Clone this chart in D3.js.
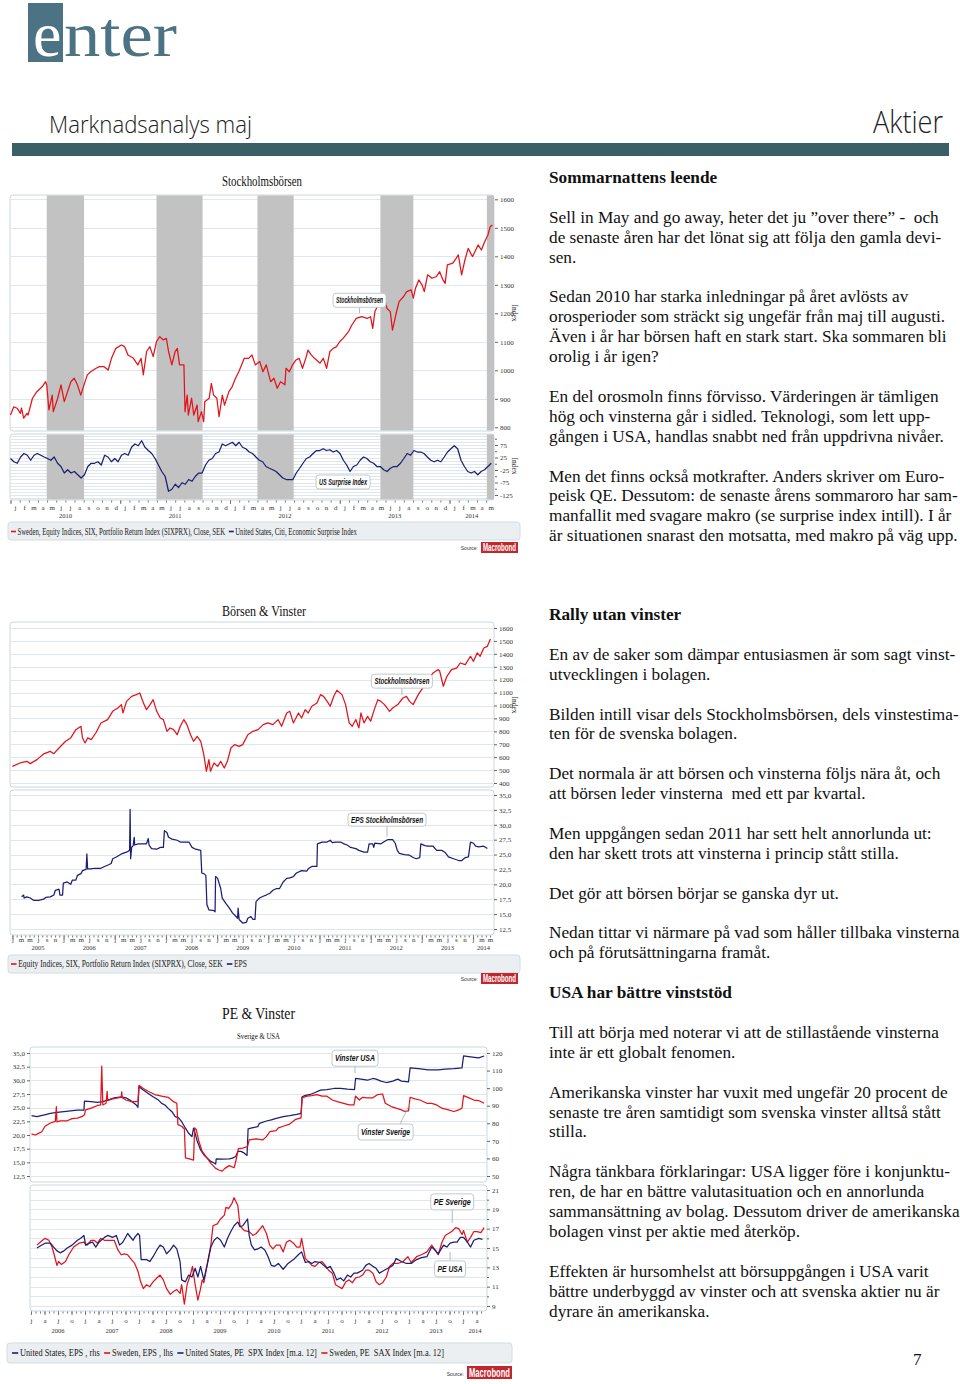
<!DOCTYPE html>
<html>
<head>
<meta charset="utf-8">
<script src="https://cdn.jsdelivr.net/npm/d3@7"></script>
<style>
  body { margin: 0; background: #fff; }
  svg { display: block; }
</style>
</head>
<body>
<script>
// ---------------- data ----------------
var monthLetters = ['j','f','m','a','m','j','j','a','s','o','n','d'];

// Chart 1: Stockholmsbörsen (SIXPRX) 2010-2014, [decimal year, index]
var c1Stock = [[2010.00,843],[2010.03,872],[2010.06,867],[2010.09,849],[2010.10,867],[2010.12,832],[2010.15,849],[2010.16,843],[2010.20,902],[2010.24,925],[2010.29,943],[2010.32,960],[2010.33,949],[2010.35,861],[2010.38,913],[2010.39,855],[2010.43,902],[2010.46,949],[2010.49,890],[2010.52,925],[2010.55,960],[2010.58,972],[2010.61,949],[2010.64,913],[2010.67,949],[2010.70,984],[2010.73,995],[2010.78,1007],[2010.81,1013],[2010.85,1013],[2010.89,1001],[2010.92,1042],[2010.96,1077],[2011.01,1089],[2011.04,1083],[2011.07,1054],[2011.12,1042],[2011.16,1019],[2011.19,1042],[2011.21,984],[2011.24,1066],[2011.27,1083],[2011.30,1048],[2011.33,1101],[2011.36,1118],[2011.39,1107],[2011.42,1112],[2011.44,1066],[2011.47,1019],[2011.50,1066],[2011.52,1077],[2011.54,1019],[2011.58,1019],[2011.59,855],[2011.61,913],[2011.62,843],[2011.65,902],[2011.67,843],[2011.70,878],[2011.71,820],[2011.74,855],[2011.76,820],[2011.77,890],[2011.81,902],[2011.83,954],[2011.85,913],[2011.88,902],[2011.90,837],[2011.93,913],[2011.95,878],[2011.99,925],[2012.02,943],[2012.05,972],[2012.08,995],[2012.13,1042],[2012.17,1042],[2012.20,1054],[2012.23,1019],[2012.27,1031],[2012.30,995],[2012.33,1019],[2012.37,960],[2012.40,972],[2012.43,937],[2012.46,960],[2012.50,949],[2012.51,1007],[2012.54,995],[2012.57,1019],[2012.60,1036],[2012.63,1042],[2012.66,1007],[2012.69,1042],[2012.71,1071],[2012.74,1054],[2012.77,1042],[2012.82,1025],[2012.85,1042],[2012.88,1007],[2012.91,1066],[2012.94,1077],[2012.97,1083],[2013.00,1101],[2013.03,1112],[2013.08,1136],[2013.11,1159],[2013.15,1182],[2013.20,1188],[2013.25,1182],[2013.28,1188],[2013.30,1147],[2013.32,1206],[2013.35,1229],[2013.40,1264],[2013.43,1217],[2013.46,1206],[2013.48,1141],[2013.51,1194],[2013.54,1241],[2013.58,1258],[2013.61,1276],[2013.65,1282],[2013.67,1253],[2013.69,1288],[2013.72,1317],[2013.75,1299],[2013.77,1276],[2013.80,1335],[2013.84,1323],[2013.88,1329],[2013.91,1346],[2013.94,1317],[2013.96,1305],[2013.98,1370],[2014.03,1376],[2014.06,1393],[2014.08,1405],[2014.11,1335],[2014.14,1387],[2014.17,1428],[2014.20,1405],[2014.21,1399],[2014.26,1440],[2014.29,1422],[2014.32,1451],[2014.35,1475],[2014.37,1504],[2014.39,1510]];

// Chart 1: Citi Economic Surprise Index US, evenly spaced readings 2010.00 - 2014.38
var c1SurpriseSpan = [2010.00, 2014.38];
var c1Surprise = [
  21, 8, 2, 27, 41, 34, 14, 34, 41, 34,
  27, 21, 14, 27, 2, -11, -37, -24, -37, -31,
  -44, -57, -44, -11, 2, 2, 8, -5, 34, 27,
  8, 21, 8, 34, 41, 34, 66, 79, 72, 92,
  66, 53, 41, 21, -5, -31, -50, -110, -102, -82,
  -95, -76, -82, -63, -70, -50, -37, -37, -5, 14,
  21, 41, 47, 79, 72, 79, 86, 72, 86, 66,
  60, 47, 41, 27, 14, 8, -11, -18, -24, -31,
  -44, -57, -63, -63, -63, -37, -18, 2, 21, 27,
  41, 53, 53, 60, 53, 56, 47, 53, 41, 14,
  -5, -31, -11, -5, 14, 27, 21, 8, 2, -11,
  -11, -24, -31, -18, -11, -11, 2, 21, 41, 34,
  53, 47, 47, 41, 27, 14, 8, 14, 8, 27,
  47, 60, 72, 60, 14, -11, -31, -37, -31, -44,
  -31, -24, -11, 2
];

// Chart 1: shaded summer periods [from, to] in decimal years
var c1Bands = [[2010.33,2010.67],[2011.33,2011.75],[2012.25,2012.58],[2013.37,2013.67],[2014.34,2014.405]];
var c1IndexTicks = [800,900,1000,1100,1200,1300,1400,1500,1600];
var c1SurpriseTicks = [75,25,-25,-75,-125];
var c1SurpriseMinor = [100,50,0,-50,-100];
var c1SurpriseGrid = d3.range(-137.5, 113, 12.5);
var c1Years = [2010,2011,2012,2013,2014];
var c1Legend = ['Sweden, Equity Indices, SIX, Portfolio Return Index (SIXPRX), Close, SEK', 'United States, Citi, Economic Surprise Index'];

// Chart 2: Stockholmsbörsen 2005-2014
var c2Stock = [[2005.00,529],[2005.15,555],[2005.28,568],[2005.35,550],[2005.48,581],[2005.61,625],[2005.74,645],[2005.81,627],[2005.91,671],[2006.04,723],[2006.14,749],[2006.24,813],[2006.34,839],[2006.37,749],[2006.42,710],[2006.47,749],[2006.54,736],[2006.63,787],[2006.73,865],[2006.86,891],[2006.96,955],[2007.06,981],[2007.13,1007],[2007.16,942],[2007.23,1032],[2007.33,1071],[2007.42,1084],[2007.49,1097],[2007.56,1020],[2007.62,968],[2007.69,1007],[2007.75,1045],[2007.82,955],[2007.89,903],[2007.95,891],[2008.02,800],[2008.08,826],[2008.15,813],[2008.22,774],[2008.28,839],[2008.35,891],[2008.41,852],[2008.48,774],[2008.54,723],[2008.61,761],[2008.68,723],[2008.74,620],[2008.79,491],[2008.84,581],[2008.87,491],[2008.94,555],[2009.01,529],[2009.07,568],[2009.14,516],[2009.20,568],[2009.27,671],[2009.34,697],[2009.43,684],[2009.50,697],[2009.60,774],[2009.70,800],[2009.80,813],[2009.90,852],[2009.99,865],[2010.09,852],[2010.19,891],[2010.26,839],[2010.36,942],[2010.42,955],[2010.49,865],[2010.59,942],[2010.65,903],[2010.72,968],[2010.78,942],[2010.85,994],[2010.95,1020],[2011.02,1084],[2011.08,1071],[2011.15,1032],[2011.21,994],[2011.28,1071],[2011.34,1118],[2011.44,1084],[2011.51,1007],[2011.58,865],[2011.64,839],[2011.71,891],[2011.77,826],[2011.81,942],[2011.87,865],[2011.94,916],[2012.00,878],[2012.07,968],[2012.14,1045],[2012.20,1032],[2012.27,1007],[2012.37,955],[2012.43,981],[2012.53,1007],[2012.63,1058],[2012.70,1071],[2012.76,1032],[2012.83,1007],[2012.93,1084],[2013.02,1136],[2013.12,1200],[2013.22,1252],[2013.32,1278],[2013.35,1265],[2013.42,1149],[2013.49,1226],[2013.58,1278],[2013.68,1290],[2013.75,1329],[2013.85,1316],[2013.95,1381],[2014.01,1342],[2014.08,1407],[2014.14,1381],[2014.21,1445],[2014.28,1458],[2014.34,1515]];

// Chart 2: EPS Stockholmsbörsen
var c2Eps = [[2005.18,17.9],[2005.22,18.2],[2005.23,17.7],[2005.28,17.9],[2005.35,17.7],[2005.42,17.3],[2005.51,17.3],[2005.61,17.5],[2005.65,17.8],[2005.74,17.9],[2005.81,18.2],[2005.84,19.0],[2005.91,19.2],[2005.93,18.2],[2005.98,18.2],[2005.995,20.2],[2006.07,20.4],[2006.14,20.0],[2006.17,20.7],[2006.24,20.7],[2006.27,21.5],[2006.34,21.8],[2006.37,22.3],[2006.44,22.5],[2006.455,25.1],[2006.47,22.6],[2006.54,22.6],[2006.60,22.7],[2006.73,22.7],[2006.80,23.0],[2006.86,23.2],[2006.93,23.5],[2006.96,24.3],[2007.03,24.6],[2007.13,25.1],[2007.23,25.4],[2007.29,25.7],[2007.30,32.6],[2007.31,24.3],[2007.33,26.2],[2007.36,26.5],[2007.38,27.9],[2007.39,26.6],[2007.46,26.8],[2007.52,26.8],[2007.62,26.8],[2007.655,27.7],[2007.67,26.6],[2007.72,26.0],[2007.82,25.9],[2007.89,26.2],[2007.95,26.2],[2007.97,29.0],[2008.02,28.7],[2008.05,27.9],[2008.12,27.6],[2008.22,27.4],[2008.28,27.1],[2008.45,27.1],[2008.51,26.2],[2008.58,25.9],[2008.68,25.7],[2008.70,21.9],[2008.74,21.8],[2008.78,21.5],[2008.80,16.6],[2008.84,15.7],[2008.94,15.6],[2008.96,15.4],[2008.97,21.3],[2009.01,21.0],[2009.07,19.3],[2009.10,17.7],[2009.17,16.8],[2009.24,16.0],[2009.30,15.2],[2009.37,14.6],[2009.40,14.3],[2009.41,16.0],[2009.43,14.1],[2009.50,13.5],[2009.57,13.6],[2009.60,14.3],[2009.66,14.6],[2009.70,14.1],[2009.74,14.1],[2009.76,17.1],[2009.83,17.7],[2009.90,18.0],[2009.96,18.2],[2010.03,18.5],[2010.09,19.0],[2010.16,19.3],[2010.22,19.3],[2010.29,20.4],[2010.36,21.0],[2010.42,21.1],[2010.49,21.3],[2010.55,21.9],[2010.65,22.3],[2010.75,22.2],[2010.78,22.6],[2010.85,23.0],[2010.95,23.0],[2010.96,26.8],[2011.05,27.1],[2011.15,27.1],[2011.21,27.4],[2011.25,27.0],[2011.31,27.1],[2011.41,27.1],[2011.48,26.8],[2011.54,26.6],[2011.61,26.2],[2011.71,26.0],[2011.77,25.7],[2011.87,25.4],[2011.94,25.4],[2011.97,26.8],[2012.04,26.8],[2012.06,26.2],[2012.08,26.9],[2012.20,26.8],[2012.27,27.2],[2012.33,27.5],[2012.43,27.5],[2012.48,26.9],[2012.52,25.7],[2012.56,25.2],[2012.66,25.0],[2012.76,24.9],[2012.83,24.5],[2012.89,24.3],[2012.96,24.5],[2012.98,26.8],[2013.06,26.5],[2013.12,26.4],[2013.22,26.4],[2013.29,25.7],[2013.39,25.7],[2013.45,25.4],[2013.52,24.6],[2013.62,24.3],[2013.72,24.0],[2013.78,24.0],[2013.85,24.5],[2013.91,24.6],[2013.95,27.1],[2014.01,26.9],[2014.05,26.4],[2014.11,26.3],[2014.21,26.4],[2014.28,26.0]];
var c2IndexTicks = d3.range(400, 1601, 100);
var c2EpsTicks = d3.range(12.5, 35.1, 2.5);
var c2Years = d3.range(2005, 2015);
var c2Legend = ['Equity Indices, SIX, Portfolio Return Index (SIXPRX), Close, SEK', 'EPS'];

// Chart 3 top: EPS United States (rhs) and Sweden (lhs)
var c3EpsUS = [[2006.01,84.3],[2006.11,83.8],[2006.23,84.7],[2006.36,85.7],[2006.48,86.2],[2006.61,86.6],[2006.73,87.0],[2006.86,87.5],[2006.98,87.5],[2006.99,92.6],[2007.11,92.3],[2007.23,91.9],[2007.33,92.3],[2007.42,93.2],[2007.54,94.5],[2007.67,95.1],[2007.76,94.5],[2007.86,92.6],[2007.95,90.4],[2007.98,89.1],[2008.00,100.8],[2008.08,98.9],[2008.17,97.0],[2008.26,95.1],[2008.36,93.2],[2008.42,91.3],[2008.48,90.4],[2008.54,88.5],[2008.61,86.6],[2008.67,83.8],[2008.73,83.2],[2008.79,80.9],[2008.86,77.2],[2008.92,74.3],[2008.98,72.4],[2009.01,77.2],[2009.03,75.3],[2009.08,69.6],[2009.14,64.9],[2009.20,62.1],[2009.26,60.2],[2009.33,58.3],[2009.39,57.4],[2009.42,56.8],[2009.43,59.8],[2009.54,59.6],[2009.67,59.8],[2009.73,60.2],[2009.79,61.1],[2009.83,64.0],[2009.89,64.0],[2009.95,63.0],[2010.00,61.7],[2010.02,76.8],[2010.11,77.5],[2010.20,78.1],[2010.23,80.0],[2010.36,81.3],[2010.45,81.9],[2010.54,82.8],[2010.67,83.8],[2010.79,84.3],[2010.92,85.1],[2011.00,85.7],[2011.02,95.1],[2011.07,95.7],[2011.17,96.4],[2011.26,97.5],[2011.36,98.9],[2011.48,99.2],[2011.61,99.8],[2011.73,99.8],[2011.86,99.4],[2011.99,99.2],[2012.01,105.5],[2012.11,105.1],[2012.23,104.5],[2012.33,105.5],[2012.39,105.1],[2012.48,104.0],[2012.58,103.2],[2012.70,104.0],[2012.79,105.1],[2012.86,104.0],[2012.99,103.6],[2013.02,111.5],[2013.17,111.1],[2013.36,110.4],[2013.54,110.4],[2013.67,110.8],[2013.83,111.1],[2013.98,111.5],[2014.01,118.3],[2014.17,117.7],[2014.29,117.2],[2014.39,118.3]];
var c3EpsSE = [[2006.01,20.2],[2006.08,20.0],[2006.14,20.3],[2006.20,20.6],[2006.26,21.6],[2006.36,22.2],[2006.45,22.5],[2006.47,25.2],[2006.48,22.4],[2006.54,22.6],[2006.67,22.6],[2006.76,23.0],[2006.86,23.1],[2006.95,23.4],[2006.99,23.7],[2007.01,24.6],[2007.14,25.0],[2007.23,25.4],[2007.29,25.5],[2007.31,32.6],[2007.33,25.5],[2007.39,25.8],[2007.41,28.0],[2007.42,26.3],[2007.51,26.6],[2007.61,26.8],[2007.67,26.9],[2007.68,27.9],[2007.69,26.8],[2007.76,26.4],[2007.86,26.1],[2007.95,26.1],[2007.98,26.2],[2008.00,29.1],[2008.08,28.5],[2008.17,28.0],[2008.29,27.4],[2008.42,27.1],[2008.54,26.9],[2008.64,26.1],[2008.70,25.8],[2008.72,21.9],[2008.79,21.6],[2008.84,21.1],[2008.86,15.8],[2008.95,15.6],[2009.01,15.4],[2009.03,21.3],[2009.06,21.0],[2009.11,18.8],[2009.17,17.0],[2009.26,15.8],[2009.33,14.8],[2009.42,13.9],[2009.48,13.6],[2009.54,13.4],[2009.59,13.9],[2009.67,14.4],[2009.76,14.0],[2009.79,15.1],[2009.84,17.5],[2009.92,17.6],[2010.01,17.9],[2010.04,19.1],[2010.17,19.3],[2010.29,19.1],[2010.36,19.7],[2010.42,20.6],[2010.54,20.8],[2010.58,21.3],[2010.67,21.6],[2010.79,22.0],[2010.89,22.8],[2010.98,23.1],[2011.00,23.1],[2011.02,26.8],[2011.11,27.1],[2011.20,27.2],[2011.29,27.4],[2011.39,27.1],[2011.48,27.1],[2011.58,26.4],[2011.67,26.1],[2011.79,25.8],[2011.89,25.5],[2011.98,25.5],[2012.01,27.1],[2012.08,26.4],[2012.14,26.9],[2012.23,26.8],[2012.33,26.8],[2012.42,27.4],[2012.51,27.5],[2012.56,25.8],[2012.67,25.2],[2012.76,24.9],[2012.86,24.6],[2012.92,24.3],[2012.99,24.4],[2013.02,26.9],[2013.11,26.6],[2013.20,26.4],[2013.33,25.8],[2013.42,25.8],[2013.51,25.5],[2013.61,24.9],[2013.73,24.6],[2013.83,24.3],[2013.92,24.6],[2013.98,24.9],[2014.01,27.2],[2014.11,26.8],[2014.20,26.4],[2014.29,26.3],[2014.39,25.8]];

// Chart 3 bottom: P/E (12m moving average)
var c3PeUS = [[2006.11,15.0],[2006.17,15.2],[2006.26,15.5],[2006.36,15.5],[2006.42,15.1],[2006.48,14.7],[2006.54,14.5],[2006.61,14.7],[2006.67,15.0],[2006.76,15.3],[2006.86,15.8],[2006.92,16.0],[2006.98,16.3],[2007.01,15.3],[2007.08,15.5],[2007.14,15.6],[2007.20,15.1],[2007.26,15.6],[2007.36,16.1],[2007.42,16.3],[2007.51,16.1],[2007.58,16.3],[2007.64,15.3],[2007.70,15.6],[2007.79,16.5],[2007.89,15.8],[2007.92,16.1],[2007.98,16.5],[2008.01,16.3],[2008.04,13.8],[2008.14,13.8],[2008.20,13.6],[2008.26,14.1],[2008.33,14.8],[2008.39,15.3],[2008.45,15.1],[2008.51,14.4],[2008.58,14.8],[2008.64,15.3],[2008.70,14.9],[2008.76,13.6],[2008.79,11.7],[2008.86,11.5],[2008.92,12.2],[2008.98,12.0],[2009.04,12.9],[2009.09,12.0],[2009.14,13.1],[2009.20,11.7],[2009.26,13.2],[2009.33,15.1],[2009.39,15.8],[2009.45,16.1],[2009.51,15.8],[2009.58,15.1],[2009.64,16.0],[2009.70,16.7],[2009.76,17.3],[2009.83,17.7],[2009.87,17.2],[2009.92,17.3],[2010.01,18.0],[2010.04,16.3],[2010.08,15.3],[2010.14,14.8],[2010.20,14.9],[2010.26,15.1],[2010.33,14.8],[2010.39,14.1],[2010.45,13.2],[2010.51,13.1],[2010.58,13.4],[2010.67,12.8],[2010.76,13.4],[2010.86,13.8],[2010.95,14.3],[2011.01,14.6],[2011.08,13.5],[2011.14,13.6],[2011.20,13.4],[2011.26,13.6],[2011.36,13.5],[2011.42,13.2],[2011.48,12.9],[2011.54,13.1],[2011.61,12.4],[2011.66,11.7],[2011.73,11.9],[2011.79,11.6],[2011.86,12.2],[2011.92,12.0],[2011.98,12.4],[2012.04,12.4],[2012.14,12.7],[2012.20,13.2],[2012.26,13.4],[2012.33,13.1],[2012.39,12.9],[2012.45,12.4],[2012.51,12.6],[2012.61,12.9],[2012.70,13.2],[2012.76,13.9],[2012.86,13.6],[2012.95,13.4],[2013.04,13.4],[2013.14,13.8],[2013.23,14.0],[2013.33,14.1],[2013.42,15.1],[2013.48,14.8],[2013.54,14.4],[2013.64,15.3],[2013.70,15.1],[2013.76,15.5],[2013.83,15.6],[2013.89,15.6],[2013.95,16.1],[2014.01,16.1],[2014.08,15.6],[2014.14,15.1],[2014.20,15.8],[2014.29,16.0],[2014.36,15.9]];
var c3PeSE = [[2006.11,15.3],[2006.17,15.6],[2006.26,16.0],[2006.33,15.8],[2006.39,15.1],[2006.43,14.3],[2006.48,13.2],[2006.51,13.6],[2006.56,13.3],[2006.64,13.6],[2006.70,14.3],[2006.79,15.1],[2006.89,15.5],[2006.98,15.6],[2007.04,15.3],[2007.11,15.8],[2007.17,15.8],[2007.23,15.5],[2007.29,16.0],[2007.36,15.8],[2007.45,15.8],[2007.54,15.8],[2007.61,14.8],[2007.67,14.3],[2007.73,14.4],[2007.79,14.3],[2007.86,13.8],[2007.92,13.4],[2007.98,12.6],[2008.03,11.5],[2008.08,10.8],[2008.14,11.2],[2008.20,11.0],[2008.26,11.5],[2008.33,11.9],[2008.39,12.2],[2008.45,11.7],[2008.51,10.8],[2008.58,10.2],[2008.64,10.5],[2008.70,10.7],[2008.76,10.3],[2008.79,11.2],[2008.84,9.2],[2008.89,11.2],[2008.95,12.2],[2008.99,13.1],[2009.04,11.2],[2009.09,9.6],[2009.14,10.8],[2009.17,11.7],[2009.20,11.4],[2009.26,13.2],[2009.33,15.3],[2009.37,17.3],[2009.45,17.5],[2009.51,18.0],[2009.58,18.4],[2009.61,19.2],[2009.66,19.1],[2009.72,19.6],[2009.76,20.2],[2009.83,19.4],[2009.87,17.3],[2009.95,16.8],[2010.04,16.7],[2010.11,16.3],[2010.17,16.5],[2010.23,16.9],[2010.29,17.3],[2010.36,16.5],[2010.42,15.3],[2010.48,14.9],[2010.54,15.3],[2010.61,15.3],[2010.67,14.6],[2010.73,15.6],[2010.79,15.8],[2010.86,15.5],[2010.92,15.1],[2010.98,15.1],[2011.01,16.0],[2011.08,13.9],[2011.14,13.6],[2011.20,13.2],[2011.26,13.1],[2011.33,13.5],[2011.39,13.6],[2011.45,13.2],[2011.51,12.7],[2011.58,12.4],[2011.64,11.2],[2011.70,11.0],[2011.76,10.8],[2011.83,11.5],[2011.89,11.7],[2011.95,11.4],[2012.01,11.9],[2012.08,12.0],[2012.14,12.2],[2012.20,12.7],[2012.26,12.7],[2012.33,12.4],[2012.39,11.5],[2012.45,11.2],[2012.51,11.4],[2012.58,12.0],[2012.64,13.1],[2012.70,13.4],[2012.79,13.4],[2012.89,13.6],[2012.98,14.1],[2013.04,13.5],[2013.14,14.1],[2013.23,14.3],[2013.33,14.6],[2013.42,15.3],[2013.48,14.8],[2013.54,14.3],[2013.61,15.6],[2013.67,16.3],[2013.73,16.5],[2013.79,16.7],[2013.86,17.1],[2013.92,17.0],[2013.98,16.4],[2014.01,16.8],[2014.08,15.6],[2014.14,16.1],[2014.20,16.7],[2014.26,16.7],[2014.33,16.6],[2014.39,17.1]];
var c3EpsSETicks = d3.range(12.5, 35.1, 2.5);
var c3EpsUSTicks = d3.range(50, 121, 10);
var c3PeTicks = [9,11,13,15,17,19,21];
var c3PeMinor = [10,12,14,16,18,20];
var c3Years = d3.range(2006, 2015);
var c3Legend = ['United States, EPS , rhs', 'Sweden, EPS , lhs', 'United States, PE  SPX Index [m.a. 12]', 'Sweden, PE  SAX Index [m.a. 12]'];

// Article text ('#' = heading, '' = empty line)
var textCol1 = ['#Sommarnattens leende', '',
  'Sell in May and go away, heter det ju \u201dover there\u201d -  och',
  'de senaste åren har det lönat sig att följa den gamla devi-',
  'sen.', '',
  'Sedan 2010 har starka inledningar på året avlösts av',
  'orosperioder som sträckt sig ungefär från maj till augusti.',
  'Även i år har börsen haft en stark start. Ska sommaren bli',
  'orolig i år igen?', '',
  'En del orosmoln finns förvisso. Värderingen är tämligen',
  'hög och vinsterna går i sidled. Teknologi, som lett upp-',
  'gången i USA, handlas snabbt ned från uppdrivna nivåer.', '',
  'Men det finns också motkrafter. Anders skriver om Euro-',
  'peisk QE. Dessutom: de senaste årens sommaroro har sam-',
  'manfallit med svagare makro (se surprise index intill). I år',
  'är situationen snarast den motsatta, med makro på väg upp.'];
var textCol2 = ['#Rally utan vinster', '',
  'En av de saker som dämpar entusiasmen är som sagt vinst-',
  'utvecklingen i bolagen.', '',
  'Bilden intill visar dels Stockholmsbörsen, dels vinstestima-',
  'ten för de svenska bolagen.', '',
  'Det normala är att börsen och vinsterna följs nära åt, och',
  'att börsen leder vinsterna  med ett par kvartal.', '',
  'Men uppgången sedan 2011 har sett helt annorlunda ut:',
  'den har skett trots att vinsterna i princip stått stilla.', '',
  'Det gör att börsen börjar se ganska dyr ut.', '',
  'Nedan tittar vi närmare på vad som håller tillbaka vinsterna',
  'och på förutsättningarna framåt.', '',
  '#USA har bättre vinststöd', '',
  'Till att börja med noterar vi att de stillastående vinsterna',
  'inte är ett globalt fenomen.', '',
  'Amerikanska vinster har vuxit med ungefär 20 procent de',
  'senaste tre åren samtidigt som svenska vinster alltså stått',
  'stilla.', '',
  'Några tänkbara förklaringar: USA ligger före i konjunktu-',
  'ren, de har en bättre valutasituation och en annorlunda',
  'sammansättning av bolag. Dessutom driver de amerikanska',
  'bolagen vinst per aktie med återköp.', '',
  'Effekten är hursomhelst att börsuppgången i USA varit',
  'bättre underbyggd av vinster och att svenska aktier nu är',
  'dyrare än amerikanska.'];

// ---------------- drawing ----------------
var RED = '#e3131b', NAVY = '#1c1f72', GRID = '#dfe7ec', FRAME = '#c9d8de', TEAL = '#4b7383';
var serif = '"Liberation Serif","Times New Roman",serif';
var sans = '"Liberation Sans",Arial,sans-serif';
var commaFmt = d3.formatLocale({decimal: ',', thousands: ' ', grouping: [3], currency: ['', '']}).format('.1f');

var svg = d3.select('body').append('svg')
  .attr('width', 960)
  .attr('height', 1384)
  .attr('font-family', serif);

// header
svg.append('rect').attr('x', 28).attr('y', 3).attr('width', 35).attr('height', 59).attr('fill', TEAL);
svg.append('text').attr('x', 33).attr('y', 56).attr('font-size', 64).attr('fill', '#fff').text('e');
svg.append('text').attr('x', 64).attr('y', 56).attr('font-size', 64).attr('fill', TEAL)
  .attr('textLength', 113).attr('lengthAdjust', 'spacingAndGlyphs').text('nter');
svg.append('text').attr('x', 49).attr('y', 133).attr('font-family', '"Open Sans",Roboto,' + sans).attr('font-weight', 300)
  .attr('font-size', 23).attr('fill', '#222').attr('textLength', 203).attr('lengthAdjust', 'spacingAndGlyphs')
  .text('Marknadsanalys maj');
svg.append('text').attr('x', 873).attr('y', 133).attr('font-family', '"Open Sans",Roboto,' + sans).attr('font-weight', 300)
  .attr('font-size', 31).attr('fill', '#222').attr('textLength', 70).attr('lengthAdjust', 'spacingAndGlyphs')
  .text('Aktier');
svg.append('rect').attr('x', 12).attr('y', 143).attr('width', 937).attr('height', 13).attr('fill', '#3b5f66');

// article text
function textColumn(lines, x, y0, lh) {
  svg.append('g').selectAll('text')
    .data(lines.map(function(l, i) { return {t: l, i: i}; }).filter(function(d) { return d.t !== ''; }))
    .enter().append('text')
      .attr('x', x)
      .attr('y', function(d) { return y0 + d.i * lh; })
      .attr('font-size', 17.25)
      .attr('fill', '#111')
      .attr('font-weight', function(d) { return d.t[0] === '#' ? 'bold' : null; })
      .style('white-space', 'pre')
      .text(function(d) { return d.t[0] === '#' ? d.t.slice(1) : d.t; });
}
textColumn(textCol1, 549, 183, 19.9);
textColumn(textCol2, 549, 620, 19.9);
svg.append('text').attr('x', 913).attr('y', 1365).attr('font-size', 17).attr('fill', '#111').text('7');

// ---- helpers ----
function frame(x0, y0, x1, y1) {
  svg.append('rect').attr('x', x0).attr('y', y0).attr('width', x1 - x0).attr('height', y1 - y0)
    .attr('rx', 3).attr('fill', '#fff').attr('stroke', FRAME).attr('stroke-width', 1);
}
function hgrid(y, vals, x0, x1) {
  svg.append('g').selectAll('line').data(vals).enter().append('line')
    .attr('x1', x0).attr('x2', x1)
    .attr('y1', function(d) { return Math.round(y(d)) + 0.5; })
    .attr('y2', function(d) { return Math.round(y(d)) + 0.5; })
    .attr('stroke', GRID).attr('stroke-width', 1);
}
function yAxis(y, vals, xPos, side, fmt, size) {
  var a = (side === 'left' ? d3.axisLeft(y) : d3.axisRight(y))
    .tickValues(vals).tickSize(size || 3).tickPadding(2)
    .tickFormat(fmt || function(d) { return d; });
  var g = svg.append('g').attr('transform', 'translate(' + xPos + ',0)').call(a);
  g.select('.domain').remove();
  g.attr('font-family', serif).attr('font-size', 7);
  g.selectAll('line').attr('stroke', '#666');
  g.selectAll('text').attr('fill', '#333');
  return g;
}
function minor(y, vals, xPos, side) {
  return yAxis(y, vals, xPos, side, function() { return ''; }, 2);
}
function series(x, y, data, color) {
  svg.append('path').datum(data)
    .attr('d', d3.line().x(function(d) { return x(d[0]); }).y(function(d) { return y(d[1]); }))
    .attr('fill', 'none').attr('stroke', color).attr('stroke-width', 1.25).attr('stroke-linejoin', 'round');
}
function bands(x, list, y0, y1) {
  svg.append('g').selectAll('rect').data(list).enter().append('rect')
    .attr('x', function(d) { return x(d[0]); })
    .attr('width', function(d) { return x(d[1]) - x(d[0]); })
    .attr('y', y0).attr('height', y1 - y0).attr('fill', '#c2c2c2');
}
function timeAxis(x, start, tickBase, ticks, majorTicks, labels, labelY, years, yearY) {
  var d = x.domain();
  var letter = function(v) { return monthLetters[((Math.floor((v - start) * 12 + 1e-6) % 12) + 12) % 12]; };
  var tg = svg.append('g').attr('transform', 'translate(0,' + tickBase + ')')
    .call(d3.axisBottom(x).tickValues(ticks).tickSize(2).tickFormat(''));
  tg.select('.domain').remove();
  tg.selectAll('line').attr('stroke', '#777');
  var mg = svg.append('g').attr('transform', 'translate(0,' + tickBase + ')')
    .call(d3.axisBottom(x).tickValues(majorTicks).tickSize(3.5).tickFormat(''));
  mg.select('.domain').remove();
  mg.selectAll('line').attr('stroke', '#777');
  var lg = svg.append('g').attr('transform', 'translate(0,' + labelY + ')')
    .call(d3.axisBottom(x).tickValues(labels).tickSize(0).tickPadding(0).tickFormat(letter));
  lg.select('.domain').remove();
  lg.attr('font-family', serif).attr('font-size', 7);
  lg.selectAll('text').attr('dy', 0).attr('fill', '#333');
  svg.append('g').selectAll('text').data(years).enter().append('text')
    .attr('x', function(yr) { return x((Math.max(yr, d[0]) + Math.min(yr + 1, d[1])) / 2); })
    .attr('y', yearY).attr('text-anchor', 'middle').attr('font-size', 6.5).attr('fill', '#333')
    .text(function(yr) { return yr; });
}
function callout(label, ax, ay, w, h, dx, dy, tail) {
  var cx = ax + dx, cy = ay + dy;
  if (tail !== null) {
    var ey = dy < 0 ? cy + h / 2 : cy - h / 2;
    svg.append('line').attr('x1', ax).attr('y1', ay).attr('x2', cx + (tail || 0)).attr('y2', ey)
      .attr('stroke', '#9aa8ae').attr('stroke-width', 0.8);
  }
  svg.append('rect').attr('x', cx - w / 2).attr('y', cy - h / 2).attr('width', w).attr('height', h)
    .attr('rx', 3).attr('fill', '#fff').attr('stroke', '#b8c5cb').attr('stroke-width', 0.9);
  svg.append('text').attr('x', cx).attr('y', cy + 3).attr('text-anchor', 'middle')
    .attr('font-family', sans).attr('font-weight', 'bold').attr('font-style', 'italic')
    .attr('font-size', 8.5).attr('fill', '#111')
    .attr('textLength', w - 6).attr('lengthAdjust', 'spacingAndGlyphs').text(label);
}
function legend(x0, y0, x1, y1, tx, ty, len, names, colors) {
  svg.append('rect').attr('x', x0).attr('y', y0).attr('width', x1 - x0).attr('height', y1 - y0)
    .attr('rx', 3).attr('fill', '#eceff1').attr('stroke', '#d3dce0');
  var g = svg.append('g');
  var cx = 0;
  names.forEach(function(n, i) {
    g.append('line').attr('x1', cx).attr('x2', cx + 7).attr('y1', -3).attr('y2', -3)
      .attr('stroke', colors[i]).attr('stroke-width', 1.6);
    cx += 9;
    var t = g.append('text').attr('x', cx).attr('y', 0).attr('font-size', 9.5).attr('fill', '#222')
      .style('white-space', 'pre').text(n);
    cx += t.node().getComputedTextLength() + 5;
  });
  g.attr('transform', 'translate(' + tx + ',' + ty + ') scale(' + (len / (cx - 5)) + ',1)');
}
function source(xr, yt, w, h) {
  svg.append('text').attr('x', xr - w - 3).attr('y', yt + h - 3.5).attr('text-anchor', 'end')
    .attr('font-family', sans).attr('font-size', 5).attr('fill', '#333').text('Source:');
  svg.append('rect').attr('x', xr - w).attr('y', yt).attr('width', w).attr('height', h).attr('fill', '#c1272d');
  svg.append('text').attr('x', xr - w / 2).attr('y', yt + h - 2.2).attr('text-anchor', 'middle')
    .attr('font-family', '"Liberation Sans Narrow",' + sans).attr('font-weight', 'bold')
    .attr('font-size', h - 1).attr('fill', '#fff')
    .attr('textLength', w - 4).attr('lengthAdjust', 'spacingAndGlyphs').text('Macrobond');
}
function title(txt, x, y, size, len) {
  svg.append('text').attr('x', x).attr('y', y).attr('font-size', size).attr('fill', '#111')
    .attr('textLength', len).attr('lengthAdjust', 'spacingAndGlyphs').text(txt);
}
function vlabel(txt, x, y) {
  svg.append('text').attr('transform', 'translate(' + x + ',' + y + ') rotate(90)')
    .attr('text-anchor', 'middle').attr('font-size', 7.5).attr('fill', '#333').text(txt);
}

// ================= Chart 1 =================
var x1 = d3.scaleLinear().domain([2010, 2014.405]).range([10.5, 494]);
var y1a = d3.scaleLinear().domain([800, 1600]).range([427.3, 199.3]);
var y1b = d3.scaleLinear().domain([-125, 75]).range([495, 445]);

title('Stockholmsbörsen', 222, 186, 14.5, 80);
frame(10, 195, 494, 431);
frame(10, 434, 494, 500);
hgrid(y1a, c1IndexTicks, 10.5, 493.5);
hgrid(y1b, c1SurpriseGrid, 10.5, 493.5);
bands(x1, c1Bands, 195.5, 430.5);
bands(x1, c1Bands, 434.5, 499.5);
series(x1, y1a, c1Stock, RED);
var c1SurprisePts = c1Surprise.map(function(v, i) {
  return [c1SurpriseSpan[0] + i * (c1SurpriseSpan[1] - c1SurpriseSpan[0]) / (c1Surprise.length - 1), v];
});
series(x1, y1b, c1SurprisePts, NAVY);
yAxis(y1a, c1IndexTicks, 495, 'right');
yAxis(y1b, c1SurpriseTicks, 495, 'right');
minor(y1b, c1SurpriseMinor, 495, 'right');
vlabel('Index', 512, 313);
vlabel('Index', 512, 466);
callout('Stockholmsbörsen', x1(2013.18), y1a(1200), 53, 14, 0, -13, 0);
callout('US Surprise Index', x1(2013.03), y1b(-73), 54, 14, 0, 0, null);
timeAxis(x1, 2010, 500.5,
  d3.range(0, 53).map(function(k) { return 2010 + k / 12; }),
  d3.range(0, 5).map(function(k) { return 2010 + k; }),
  d3.range(0, 53).map(function(k) { return 2010 + (k + 0.5) / 12; }), 509.5,
  c1Years, 517.5);
legend(8, 522, 520, 540, 11, 534.5, 346, c1Legend, [RED, NAVY]);
source(518, 542, 37, 11);

// ================= Chart 2 =================
var x2 = d3.scaleLinear().domain([2005, 2014.41]).range([12.4, 494]);
var y2a = d3.scaleLinear().domain([400, 1600]).range([783, 628]);
var y2b = d3.scaleLinear().domain([12.5, 35]).range([929, 795]);

title('Börsen & Vinster', 222, 615.5, 14.5, 84);
frame(10, 622, 494, 787);
frame(10, 790, 494, 935);
hgrid(y2a, c2IndexTicks, 10.5, 493.5);
hgrid(y2b, c2EpsTicks, 10.5, 493.5);
series(x2, y2a, c2Stock, RED);
series(x2, y2b, c2Eps, NAVY);
yAxis(y2a, c2IndexTicks, 494, 'right');
yAxis(y2b, c2EpsTicks, 494, 'right', commaFmt);
vlabel('Index', 512, 705);
callout('Stockholmsbörsen', x2(2012.61), y2a(1080), 61, 14, 0, -14, 0);
callout('EPS Stockholmsbörsen', x2(2012.32), y2b(28.0), 78, 13, 0, -17, 0);
timeAxis(x2, 2005, 935.5,
  d3.range(0, 113).map(function(k) { return 2005 + k / 12; }),
  d3.range(0, 10).map(function(k) { return 2005 + k; }),
  d3.range(0, 57).map(function(k) { return 2005 + k / 6; }), 941.5,
  c2Years, 949.5);
legend(8, 955, 520, 973, 11, 967, 236, c2Legend, [RED, NAVY]);
source(518, 973, 37, 11);

// ================= Chart 3 =================
var x3 = d3.scaleLinear().domain([2006, 2014.44]).range([31, 486.8]);
var y3l = d3.scaleLinear().domain([12.5, 35]).range([1176, 1053]);
var y3r = d3.scaleLinear().domain([50, 120]).range([1176, 1053]);
var y3b = d3.scaleLinear().domain([9, 21]).range([1306, 1190]);

title('PE & Vinster', 222, 1019, 17.5, 73);
title('Sverige & USA', 237, 1039, 8.5, 43);
frame(30, 1047, 487, 1182);
frame(30, 1185, 487, 1311);
hgrid(y3l, c3EpsSETicks, 30.5, 486.5);
hgrid(y3b, d3.range(9, 21.1, 1), 30.5, 486.5);
series(x3, y3r, c3EpsUS, NAVY);
series(x3, y3l, c3EpsSE, RED);
series(x3, y3b, c3PeSE, RED);
series(x3, y3b, c3PeUS, NAVY);
yAxis(y3l, c3EpsSETicks, 30, 'left', commaFmt);
yAxis(y3r, c3EpsUSTicks, 487, 'right');
yAxis(y3b, c3PeTicks, 487, 'right');
minor(y3b, c3PeMinor, 487, 'right');
callout('Vinster USA', x3(2012.0), y3r(108.5), 46, 16, 0, -15, 0);
callout('Vinster Sverige', x3(2013.02), y3l(25.85), 55, 16, -24.5, 29, 14.5);
callout('PE Sverige', x3(2013.8), y3b(17.6), 43, 16, 0, -21, 0);
callout('PE USA', x3(2013.76), y3b(14.6), 31, 16, 0, 17, 0);
timeAxis(x3, 2006, 1311.5,
  d3.range(0, 101).map(function(k) { return 2006 + k / 12; }),
  d3.range(0, 34).map(function(k) { return 2006 + k / 4; }),
  d3.range(0, 34).map(function(k) { return 2006 + k / 4; }), 1322.5,
  c3Years, 1332.5);
legend(7, 1343, 512, 1363, 12, 1356, 432, c3Legend, [NAVY, RED, NAVY, RED]);
source(512, 1366, 45, 13);
</script>
</body>
</html>
